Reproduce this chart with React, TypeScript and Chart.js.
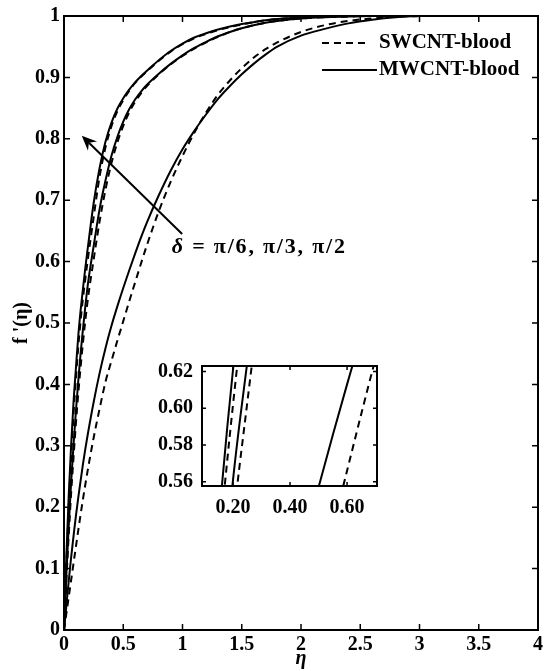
import React, { useEffect, useRef } from 'react';
import { Chart, registerables } from 'chart.js';

Chart.register(...registerables);

// ---- data ----
const etaGrid = [0, 0.02, 0.04, 0.06, 0.08, 0.1, 0.12, 0.14, 0.16, 0.18, 0.2, 0.25, 0.3, 0.35, 0.4, 0.45, 0.5, 0.55, 0.6, 0.65, 0.7, 0.8, 0.9, 1.0, 1.1, 1.2, 1.3, 1.4, 1.5, 1.6, 1.7, 1.8, 2.0, 2.2, 2.4, 2.6, 2.8, 3.0];

// δ = π/2 (left-most pair)
const mwcntPi2 = [0, 0.12, 0.22, 0.3, 0.37, 0.425, 0.478, 0.52, 0.556, 0.59, 0.621, 0.695, 0.752, 0.795, 0.826, 0.849, 0.866, 0.88, 0.892, 0.902, 0.911, 0.928, 0.943, 0.955, 0.965, 0.972, 0.978, 0.983, 0.987, 0.99, 0.993, 0.995, 0.998, 0.999, 1, 1, 1, 1];
const swcntPi2 = [0, 0.105, 0.2, 0.28, 0.35, 0.408, 0.46, 0.503, 0.54, 0.572, 0.602, 0.672, 0.738, 0.786, 0.82, 0.845, 0.863, 0.878, 0.891, 0.901, 0.91, 0.927, 0.942, 0.954, 0.964, 0.971, 0.977, 0.982, 0.986, 0.99, 0.993, 0.995, 0.998, 0.999, 1, 1, 1, 1];
// δ = π/3 (middle pair)
const mwcntPi3 = [0, 0.09, 0.17, 0.24, 0.3, 0.355, 0.405, 0.45, 0.49, 0.527, 0.561, 0.625, 0.685, 0.732, 0.772, 0.803, 0.828, 0.848, 0.864, 0.877, 0.888, 0.906, 0.922, 0.936, 0.948, 0.958, 0.967, 0.974, 0.98, 0.985, 0.989, 0.992, 0.996, 0.998, 0.999, 1, 1, 1];
const swcntPi3 = [0, 0.08, 0.155, 0.222, 0.28, 0.335, 0.384, 0.428, 0.468, 0.504, 0.537, 0.603, 0.665, 0.717, 0.76, 0.794, 0.821, 0.843, 0.86, 0.874, 0.886, 0.905, 0.921, 0.935, 0.947, 0.957, 0.966, 0.974, 0.98, 0.985, 0.989, 0.992, 0.996, 0.998, 0.999, 1, 1, 1];
// δ = π/6 (right-most pair)
const mwcntPi6 = [0, 0.04, 0.08, 0.118, 0.152, 0.185, 0.215, 0.243, 0.27, 0.295, 0.318, 0.371, 0.418, 0.459, 0.495, 0.527, 0.557, 0.5855, 0.613, 0.6395, 0.664, 0.708, 0.748, 0.783, 0.813, 0.84, 0.865, 0.886, 0.905, 0.922, 0.937, 0.95, 0.968, 0.979, 0.988, 0.994, 0.998, 1];
const swcntPi6 = [0, 0.027, 0.054, 0.081, 0.108, 0.135, 0.162, 0.188, 0.213, 0.237, 0.26, 0.313, 0.36, 0.404, 0.438, 0.471, 0.503, 0.535, 0.566, 0.597, 0.627, 0.682, 0.73, 0.772, 0.81, 0.843, 0.872, 0.895, 0.915, 0.932, 0.946, 0.957, 0.974, 0.985, 0.992, 0.996, 0.999, 1];

const xTicks = [0, 0.5, 1, 1.5, 2, 2.5, 3, 3.5, 4];
const xTickLabels = ['0', '0.5', '1', '1.5', '2', '2.5', '3', '3.5', '4'];
const yTicks = [0, 0.1, 0.2, 0.3, 0.4, 0.5, 0.6, 0.7, 0.8, 0.9, 1];
const yTickLabels = ['0', '0.1', '0.2', '0.3', '0.4', '0.5', '0.6', '0.7', '0.8', '0.9', '1'];
const insetXTicks = [0.2, 0.4, 0.6];
const insetXTickLabels = ['0.20', '0.40', '0.60'];
const insetYTicks = [0.56, 0.58, 0.6, 0.62];
const insetYTickLabels = ['0.56', '0.58', '0.60', '0.62'];

const legendLabels = ['SWCNT-blood', 'MWCNT-blood'];
const deltaLabel = ['δ', ' = π/6, π/3, π/2'];
const yTitle = "f '(η)";
const xTitle = 'η';
// arrow annotation (data coordinates): tail -> head
const arrowTail = { x: 0.997, y: 0.645 };
const arrowHead = { x: 0.15, y: 0.805 };
const deltaLabelPos = { x: 0.91, y: 0.624 };

const SERIF = '"Liberation Serif", "Times New Roman", serif';
const DASH = [7, 5];

function makeDatasets() {
  const series = [
    { d: swcntPi6, dash: true },
    { d: mwcntPi6, dash: false },
    { d: swcntPi3, dash: true },
    { d: mwcntPi3, dash: false },
    { d: swcntPi2, dash: true },
    { d: mwcntPi2, dash: false },
  ];
  return series.map((s) => ({
    data: etaGrid.map((x, i) => ({ x, y: s.d[i] })),
    borderColor: '#000',
    borderWidth: 2,
    borderDash: s.dash ? DASH : [],
    pointRadius: 0,
    fill: false,
    cubicInterpolationMode: 'monotone' as const,
  }));
}

function framePlugin(xt: number[], yt: number[], len: number, lw: number) {
  return {
    id: 'frame',
    beforeDatasetsDraw(chart: any) {
      const { ctx, chartArea: a } = chart;
      ctx.save();
      ctx.fillStyle = '#fff';
      ctx.fillRect(a.left, a.top, a.right - a.left, a.bottom - a.top);
      ctx.restore();
    },
    afterDatasetsDraw(chart: any) {
      const { ctx, chartArea: a, scales } = chart;
      ctx.save();
      ctx.strokeStyle = '#000';
      ctx.lineWidth = 1.5;
      ctx.beginPath();
      for (const v of xt) {
        const x = scales.x.getPixelForValue(v);
        ctx.moveTo(x, a.bottom);
        ctx.lineTo(x, a.bottom - len);
        ctx.moveTo(x, a.top);
        ctx.lineTo(x, a.top + len);
      }
      for (const v of yt) {
        const y = scales.y.getPixelForValue(v);
        ctx.moveTo(a.left, y);
        ctx.lineTo(a.left + len, y);
        ctx.moveTo(a.right, y);
        ctx.lineTo(a.right - len, y);
      }
      ctx.stroke();
      ctx.lineWidth = lw;
      ctx.strokeRect(a.left, a.top, a.right - a.left, a.bottom - a.top);
      ctx.restore();
    },
  };
}

const annotationPlugin = {
  id: 'annot',
  afterDraw(chart: any) {
    const { ctx, scales } = chart;
    const sx = scales.x, sy = scales.y;
    ctx.save();
    // arrow
    const x1 = sx.getPixelForValue(arrowTail.x), y1 = sy.getPixelForValue(arrowTail.y);
    const x2 = sx.getPixelForValue(arrowHead.x), y2 = sy.getPixelForValue(arrowHead.y);
    const ang = Math.atan2(y2 - y1, x2 - x1);
    const L = 15, W = 6.5, notch = 10;
    ctx.strokeStyle = '#000';
    ctx.fillStyle = '#000';
    ctx.lineWidth = 2;
    ctx.beginPath();
    ctx.moveTo(x1, y1);
    ctx.lineTo(x2 - Math.cos(ang) * notch, y2 - Math.sin(ang) * notch);
    ctx.stroke();
    const bx = x2 - Math.cos(ang) * L, by = y2 - Math.sin(ang) * L;
    const nx = -Math.sin(ang), ny = Math.cos(ang);
    ctx.beginPath();
    ctx.moveTo(x2, y2);
    ctx.lineTo(bx + nx * W, by + ny * W);
    ctx.lineTo(x2 - Math.cos(ang) * notch, y2 - Math.sin(ang) * notch);
    ctx.lineTo(bx - nx * W, by - ny * W);
    ctx.closePath();
    ctx.fill();

    // delta label
    const tx = sx.getPixelForValue(deltaLabelPos.x), ty = sy.getPixelForValue(deltaLabelPos.y);
    ctx.textBaseline = 'middle';
    ctx.textAlign = 'left';
    (ctx as any).letterSpacing = '1.8px';
    ctx.font = `italic bold 22px ${SERIF}`;
    ctx.fillText(deltaLabel[0], tx, ty);
    const w0 = ctx.measureText(deltaLabel[0]).width;
    ctx.font = `bold 22px ${SERIF}`;
    ctx.fillText(deltaLabel[1], tx + w0, ty);
    (ctx as any).letterSpacing = '0px';

    // legend
    const lx0 = 322, lx1dash = 370, lx1solid = 377, ltx = 379;
    const ly = [43, 70];
    ctx.lineWidth = 2;
    ctx.setLineDash(DASH);
    ctx.beginPath();
    ctx.moveTo(lx0, ly[0]);
    ctx.lineTo(lx1dash, ly[0]);
    ctx.stroke();
    ctx.setLineDash([]);
    ctx.beginPath();
    ctx.moveTo(lx0, ly[1]);
    ctx.lineTo(lx1solid, ly[1]);
    ctx.stroke();
    ctx.font = `bold 21px ${SERIF}`;
    ctx.fillText(legendLabels[0], ltx, ly[0]);
    ctx.fillText(legendLabels[1], ltx, ly[1]);
    ctx.restore();
  },
};

function fixedTicks(values: number[]) {
  return (scale: any) => {
    scale.ticks = values.map((v) => ({ value: v }));
  };
}

export default function App() {
  const mainRef = useRef<HTMLCanvasElement>(null);
  const insetRef = useRef<HTMLCanvasElement>(null);

  useEffect(() => {
    const tickFont = { family: SERIF, weight: 'bold' as const, size: 20 };
    const main = new Chart(mainRef.current!, {
      type: 'line',
      data: { datasets: makeDatasets() as any },
      options: {
        responsive: false,
        animation: false,
        events: [],
        layout: { padding: { left: 0, right: 5, top: 13, bottom: 0 } },
        plugins: { legend: { display: false }, tooltip: { enabled: false } },
        scales: {
          x: {
            type: 'linear',
            min: 0,
            max: 4,
            afterBuildTicks: fixedTicks(xTicks),
            afterFit: (s: any) => { s.height = 41; },
            grid: { display: false, drawTicks: false },
            border: { display: false },
            ticks: {
              font: tickFont,
              color: '#000',
              padding: 3,
              maxRotation: 0,
              autoSkip: false,
              callback: (_v: any, i: number) => xTickLabels[i],
            },
            title: {
              display: true,
              text: xTitle,
              color: '#000',
              font: { family: SERIF, weight: 'bold', style: 'italic', size: 20 },
              padding: { top: 0, bottom: 0 },
            },
          },
          y: {
            type: 'linear',
            min: 0,
            max: 1,
            afterBuildTicks: fixedTicks(yTicks),
            afterFit: (s: any) => { s.width = 64; },
            grid: { display: false, drawTicks: false },
            border: { display: false },
            ticks: {
              font: tickFont,
              color: '#000',
              padding: 4,
              autoSkip: false,
              callback: (_v: any, i: number) => yTickLabels[i],
            },
            title: {
              display: true,
              text: yTitle,
              color: '#000',
              font: { family: SERIF, weight: 'bold', size: 20 },
              padding: { top: 10, bottom: 0 },
            },
          },
        },
      },
      plugins: [framePlugin(xTicks, yTicks, 6, 2), annotationPlugin],
    });

    const inset = new Chart(insetRef.current!, {
      type: 'line',
      data: { datasets: makeDatasets() as any },
      options: {
        responsive: false,
        animation: false,
        events: [],
        layout: { padding: { left: 0, right: 13, top: 16, bottom: 0 } },
        plugins: { legend: { display: false }, tooltip: { enabled: false } },
        scales: {
          x: {
            type: 'linear',
            min: 0.0912,
            max: 0.705,
            afterBuildTicks: fixedTicks(insetXTicks),
            afterFit: (s: any) => { s.height = 39; },
            grid: { display: false, drawTicks: false },
            border: { display: false },
            ticks: {
              font: tickFont,
              color: '#000',
              padding: 10,
              maxRotation: 0,
              autoSkip: false,
              callback: (_v: any, i: number) => insetXTickLabels[i],
            },
          },
          y: {
            type: 'linear',
            min: 0.5577,
            max: 0.623,
            afterBuildTicks: fixedTicks(insetYTicks),
            afterFit: (s: any) => { s.width = 52; },
            grid: { display: false, drawTicks: false },
            border: { display: false },
            ticks: {
              font: tickFont,
              color: '#000',
              padding: 9,
              autoSkip: false,
              callback: (_v: any, i: number) => insetYTickLabels[i],
            },
          },
        },
      },
      plugins: [framePlugin(insetXTicks, insetYTicks, 4, 2)],
    });

    return () => {
      main.destroy();
      inset.destroy();
    };
  }, []);

  return (
    <div style={{ position: 'absolute', left: 0, top: 0, width: 546, height: 671, background: '#fff' }}>
      <canvas ref={mainRef} width={546} height={671} style={{ position: 'absolute', left: 0, top: 0, width: 546, height: 671 }} />
      <canvas ref={insetRef} width={240} height={180} style={{ position: 'absolute', left: 150, top: 345, width: 240, height: 180 }} />
    </div>
  );
}
